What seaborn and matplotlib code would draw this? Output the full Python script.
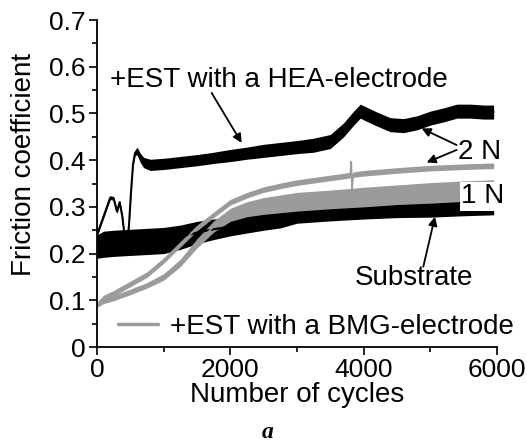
import numpy as np
import pandas as pd
import seaborn as sns
import matplotlib.pyplot as plt

# friction curves (cycles, mean value, half-width of the noise band)
hea_cycles = [0, 50, 100, 150, 200, 250, 300, 340, 380, 420, 450, 480, 510, 540, 570, 600,
              650, 700, 800, 1000, 1250, 1500, 1750, 2000, 2250, 2500, 2750, 3000, 3250, 3500,
              3700, 3850, 3950, 4050, 4200, 4400, 4600, 4800, 5000, 5200, 5400, 5600, 5800, 5950]
hea_mu = [0.24, 0.26, 0.28, 0.30, 0.32, 0.318, 0.29, 0.31, 0.28, 0.23, 0.22, 0.26, 0.33, 0.39, 0.415, 0.42,
          0.405, 0.395, 0.39, 0.392, 0.396, 0.40, 0.405, 0.41, 0.415, 0.42, 0.424, 0.428, 0.432, 0.44,
          0.465, 0.49, 0.505, 0.498, 0.488, 0.476, 0.474, 0.48, 0.49, 0.497, 0.505, 0.505, 0.503, 0.503]
hea_spread = [0.004, 0.004, 0.004, 0.004, 0.004, 0.004, 0.004, 0.004, 0.004, 0.004, 0.004, 0.004, 0.004, 0.004, 0.006, 0.008,
              0.010, 0.011, 0.012, 0.012, 0.012, 0.012, 0.012, 0.013, 0.013, 0.014, 0.014, 0.014, 0.015, 0.015,
              0.015, 0.015, 0.015, 0.015, 0.015, 0.015, 0.015, 0.015, 0.015, 0.015, 0.015, 0.015, 0.015, 0.015]

sub_cycles = [0, 100, 250, 500, 750, 1000, 1250, 1500, 1750, 2000, 2250, 2500, 2750, 3000,
              3500, 4000, 4500, 5000, 5500, 5950]
sub_mu = [0.215, 0.22, 0.222, 0.224, 0.226, 0.228, 0.235, 0.245, 0.252, 0.258, 0.264, 0.27, 0.275, 0.283,
          0.288, 0.292, 0.295, 0.298, 0.301, 0.303]
sub_spread = [0.025, 0.028, 0.028, 0.028, 0.028, 0.028, 0.026, 0.024, 0.022, 0.02, 0.02, 0.02, 0.02, 0.018,
              0.018, 0.018, 0.018, 0.02, 0.02, 0.02]

bmg2_cycles = [0, 100, 250, 500, 750, 1000, 1250, 1500, 1750, 2000, 2250, 2500, 2750, 3000,
               3500, 3800, 3815, 3825, 3840, 4000, 4500, 5000, 5500, 5950]
bmg2_mu = [0.09, 0.105, 0.115, 0.135, 0.155, 0.185, 0.22, 0.255, 0.283, 0.31, 0.325, 0.337, 0.345, 0.352,
           0.362, 0.368, 0.397, 0.335, 0.369, 0.372, 0.378, 0.383, 0.386, 0.388]
bmg2_spread = [0.006, 0.006, 0.006, 0.006, 0.006, 0.006, 0.006, 0.006, 0.006, 0.006, 0.006, 0.006, 0.006, 0.006,
               0.006, 0.006, 0.002, 0.002, 0.006, 0.006, 0.006, 0.006, 0.006, 0.006]

bmg1_cycles = [0, 100, 250, 500, 750, 1000, 1250, 1500, 1750, 2000, 2250, 2500, 3000, 3500,
               4000, 4500, 5000, 5400, 5950]
bmg1_mu = [0.09, 0.098, 0.105, 0.118, 0.132, 0.15, 0.18, 0.222, 0.258, 0.283, 0.295, 0.302, 0.311, 0.316,
           0.321, 0.326, 0.33, 0.333, 0.336]
bmg1_spread = [0.005, 0.005, 0.006, 0.006, 0.006, 0.007, 0.008, 0.01, 0.012, 0.014, 0.016, 0.018, 0.02, 0.02,
               0.021, 0.021, 0.022, 0.022, 0.022]

x_ticks = [0, 2000, 4000, 6000]
y_ticks = [0, 0.1, 0.2, 0.3, 0.4, 0.5, 0.6, 0.7]
y_ticklabels = ['0', '0.1', '0.2', '0.3', '0.4', '0.5', '0.6', '0.7']

BLACK = '#000000'
GRAY = '#9b9b9b'

sns.set_style('ticks')
plt.rcParams['font.family'] = ['Liberation Sans', 'DejaVu Sans']
for key in ['text.color', 'axes.labelcolor', 'axes.edgecolor', 'xtick.color', 'ytick.color']:
    plt.rcParams[key] = 'black'


def band(ax, cycles, mu, spread, color, lw):
    # two rows per cycle (lower / upper edge) -> seaborn draws the min-max band
    mu = np.array(mu)
    spread = np.array(spread)
    df = pd.DataFrame({'cycles': np.concatenate([cycles, cycles]),
                       'mu': np.concatenate([mu - spread, mu + spread])})
    sns.lineplot(data=df, x='cycles', y='mu', estimator='mean', errorbar=('pi', 100),
                 color=color, linewidth=lw, err_kws={'alpha': 1, 'linewidth': 0}, ax=ax)


fig = plt.figure(figsize=(5.27, 4.43), dpi=100)
ax = fig.add_axes([0.184, 0.2167, 0.759, 0.738])

band(ax, sub_cycles, sub_mu, sub_spread, BLACK, 1.5)
band(ax, bmg1_cycles, bmg1_mu, bmg1_spread, GRAY, 1.2)
band(ax, bmg2_cycles, bmg2_mu, bmg2_spread, GRAY, 1.2)
band(ax, hea_cycles, hea_mu, hea_spread, BLACK, 1.5)

ax.set_xlim(0, 6000)
ax.set_ylim(0, 0.7)
ax.set_xticks(x_ticks)
ax.set_xticklabels([str(t) for t in x_ticks])
ax.set_xticks([1000, 3000, 5000], minor=True)
ax.set_yticks(y_ticks)
ax.set_yticklabels(y_ticklabels)
ax.set_yticks([0.05, 0.15, 0.25, 0.35, 0.45, 0.55, 0.65], minor=True)
ax.tick_params(which='major', length=6, width=1.2, labelsize=19, pad=2, colors='black')
ax.tick_params(which='minor', length=3.5, width=1.2, colors='black')
sns.despine(ax=ax)
for s in ['left', 'bottom']:
    ax.spines[s].set_linewidth(1.3)
    ax.spines[s].set_color('black')

ax.set_xlabel('Number of cycles', fontsize=20, color='black')
ax.set_ylabel('Friction coefficient', fontsize=20, color='black')
ax.xaxis.set_label_coords(0.5, -0.107)
ax.yaxis.set_label_coords(-0.15, 0.557)

arrow = dict(arrowstyle='-|>', color='black', lw=1.3, mutation_scale=13, shrinkA=0, shrinkB=0)
ax.text(195, 0.572, '+EST with a HEA-electrode', fontsize=20, ha='left', va='center')
ax.annotate('', xy=(2170, 0.437), xytext=(1720, 0.544), arrowprops=arrow)
ax.text(5745, 0.418, '2 N', fontsize=20, ha='center', va='center')
ax.annotate('', xy=(4870, 0.468), xytext=(5395, 0.4325), arrowprops=arrow)
ax.annotate('', xy=(4945, 0.395), xytext=(5395, 0.422), arrowprops=arrow)
ax.text(5790, 0.323, '1 N', fontsize=20, ha='center', va='center', zorder=5,
        bbox=dict(facecolor='white', edgecolor='none', pad=1))
ax.text(4755, 0.148, 'Substrate', fontsize=20, ha='center', va='center')
ax.annotate('', xy=(5070, 0.279), xytext=(4895, 0.172), arrowprops=arrow)

handle = plt.Line2D([], [], color=GRAY, lw=2.5)
ax.legend([handle], ['+EST with a BMG-electrode'], loc='center left', bbox_to_anchor=(0.0525, 0.061),
          frameon=False, fontsize=20, borderpad=0, borderaxespad=0, handlelength=1.43, handletextpad=0.43,
          labelcolor='black')

fig.text(0.5085, 0.0226, 'a', fontsize=17, fontweight='bold', fontstyle='italic',
         family=['Liberation Serif', 'DejaVu Serif'], ha='center', va='center')

fig.savefig('out.png', dpi=100)
